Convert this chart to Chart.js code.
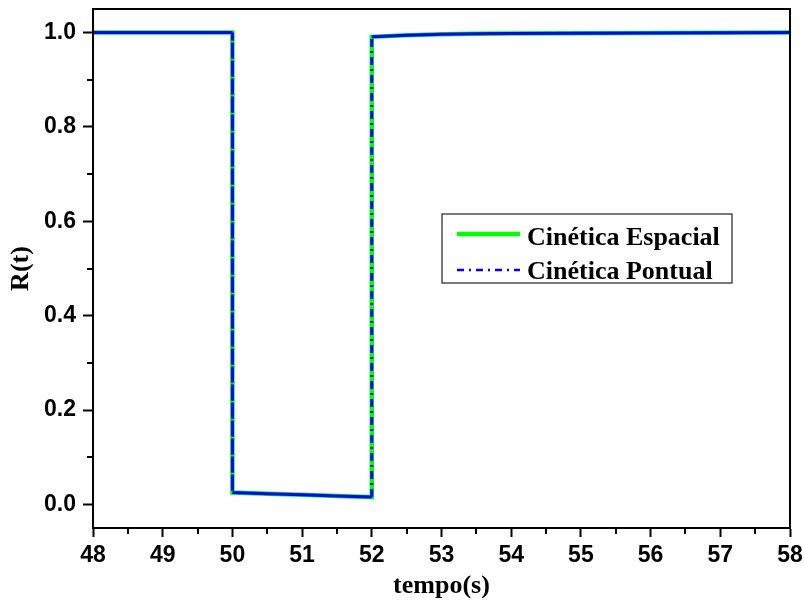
<!DOCTYPE html>
<html>
<head>
<meta charset="utf-8">
<script src="https://cdn.jsdelivr.net/npm/chart.js@4.4.1/dist/chart.umd.min.js"></script>
<style>
  body { margin: 0; background: #fff; }
  canvas { display: block; }
</style>
</head>
<body>
<canvas id="myChart" width="804" height="605"></canvas>
<script>
// tempo (s) and reactivity response R(t) for both models
const tempo = [48, 49, 50, 50, 50.5, 51, 51.5, 52, 52, 52.5, 53, 53.5, 54, 55, 56, 57, 58];
const espacial = [1.0, 1.0, 1.0, 0.025, 0.0228, 0.0205, 0.018, 0.0155, 0.991, 0.9945, 0.9965, 0.9975, 0.998, 0.9988, 0.9993, 0.9997, 1.0];
const pontual = [1.0, 1.0, 1.0, 0.025, 0.0228, 0.0205, 0.018, 0.0155, 0.991, 0.9945, 0.9965, 0.9975, 0.998, 0.9988, 0.9993, 0.9997, 1.0];

const xTicks = [48, 49, 50, 51, 52, 53, 54, 55, 56, 57, 58];
const yTicks = [0.0, 0.2, 0.4, 0.6, 0.8, 1.0];
const xMinor = [48.5, 49.5, 50.5, 51.5, 52.5, 53.5, 54.5, 55.5, 56.5, 57.5];
const yMinor = [0.1, 0.3, 0.5, 0.7, 0.9];

const seriesNames = ["Cinética Espacial", "Cinética Pontual"];

const GREEN = "#00ff00";
const BLUE = "#0000ff";
const DASHDOT = [8, 4, 2, 4];

const toPoints = (ys) => ys.map((y, i) => ({ x: tempo[i], y: y }));

// frame, minor ticks and the legend box
const extras = {
  id: "extras",
  afterDraw(chart) {
    const ctx = chart.ctx;
    const a = chart.chartArea;
    const xs = chart.scales.x;
    const ys = chart.scales.y;
    ctx.save();
    ctx.strokeStyle = "#000";
    ctx.lineWidth = 2;
    ctx.strokeRect(a.left, a.top, a.right - a.left, a.bottom - a.top);

    ctx.beginPath();
    xMinor.forEach((v) => {
      const px = Math.round(xs.getPixelForValue(v));
      ctx.moveTo(px, a.bottom);
      ctx.lineTo(px, a.bottom + 6);
    });
    yMinor.forEach((v) => {
      const py = Math.round(ys.getPixelForValue(v));
      ctx.moveTo(a.left, py);
      ctx.lineTo(a.left - 6, py);
    });
    ctx.stroke();

    // legend
    const bx = a.left + 349, by = a.top + 205, bw = 290, bh = 69;
    ctx.lineWidth = 1.2;
    ctx.strokeStyle = "#222";
    ctx.strokeRect(bx, by, bw, bh);

    ctx.lineWidth = 4.5;
    ctx.strokeStyle = GREEN;
    ctx.beginPath();
    ctx.moveTo(bx + 15, by + 20);
    ctx.lineTo(bx + 78, by + 20);
    ctx.stroke();

    ctx.lineWidth = 2.5;
    ctx.strokeStyle = BLUE;
    ctx.setLineDash([7, 5, 2, 5]);
    ctx.beginPath();
    ctx.moveTo(bx + 15, by + 56);
    ctx.lineTo(bx + 78, by + 56);
    ctx.stroke();
    ctx.setLineDash([]);

    ctx.fillStyle = "#000";
    ctx.font = "bold 26px 'Liberation Serif', 'Times New Roman', serif";
    ctx.textAlign = "left";
    ctx.textBaseline = "alphabetic";
    ctx.fillText(seriesNames[0], bx + 85, by + 31);
    ctx.fillText(seriesNames[1], bx + 85, by + 65);
    ctx.restore();
  }
};

const data = {
  datasets: [
    {
      label: seriesNames[0],
      data: toPoints(espacial),
      borderColor: GREEN,
      borderWidth: 4.5,
      pointRadius: 0,
      tension: 0,
      order: 2
    },
    {
      label: seriesNames[1],
      data: toPoints(pontual),
      borderColor: BLUE,
      borderWidth: 3,
      pointRadius: 0,
      tension: 0,
      order: 1,
      segment: {
        borderDash: (c) => (c.p0.parsed.x === c.p1.parsed.x ? DASHDOT : [])
      }
    }
  ]
};

const tickFont = { family: "'Liberation Sans', Arial, sans-serif", size: 23, weight: "bold", lineHeight: 1 };
const titleFont = { family: "'Liberation Serif', 'Times New Roman', serif", size: 26, weight: "bold" };

const config = {
  type: "line",
  data: data,
  options: {
    responsive: false,
    devicePixelRatio: 1,
    animation: false,
    layout: { padding: { top: 9, right: 14, left: 0, bottom: 0 } },
    plugins: {
      legend: { display: false },
      tooltip: { enabled: false }
    },
    scales: {
      x: {
        type: "linear",
        min: 48,
        max: 58,
        afterBuildTicks: (scale) => { scale.ticks = xTicks.map((v) => ({ value: v })); },
        afterFit: (scale) => {
          scale.height = 77;
          scale.paddingLeft = 0;
          scale.paddingRight = 0;
        },
        border: { display: true, color: "#000", width: 2 },
        grid: { drawOnChartArea: false, drawTicks: true, tickLength: 9, tickWidth: 2, tickColor: "#000" },
        ticks: { color: "#000", font: tickFont, padding: 7, autoSkip: false, maxRotation: 0 },
        title: { display: true, text: "tempo(s)", color: "#000", font: titleFont, padding: { top: 0, bottom: 3 } }
      },
      y: {
        type: "linear",
        min: -0.05,
        max: 1.05,
        afterBuildTicks: (scale) => { scale.ticks = yTicks.map((v) => ({ value: v })); },
        afterFit: (scale) => {
          scale.width = 93;
          scale.paddingTop = 0;
          scale.paddingBottom = 0;
        },
        border: { display: true, color: "#000", width: 2 },
        grid: { drawOnChartArea: false, drawTicks: true, tickLength: 10, tickWidth: 2, tickColor: "#000" },
        ticks: { color: "#000", font: tickFont, padding: 7, callback: (v) => v.toFixed(1) },
        title: { display: true, text: "R(t)", color: "#000", font: titleFont, padding: { top: 6, bottom: 0 } }
      }
    }
  },
  plugins: [extras]
};

const myChart = new Chart(document.getElementById("myChart"), config);
</script>
</body>
</html>
